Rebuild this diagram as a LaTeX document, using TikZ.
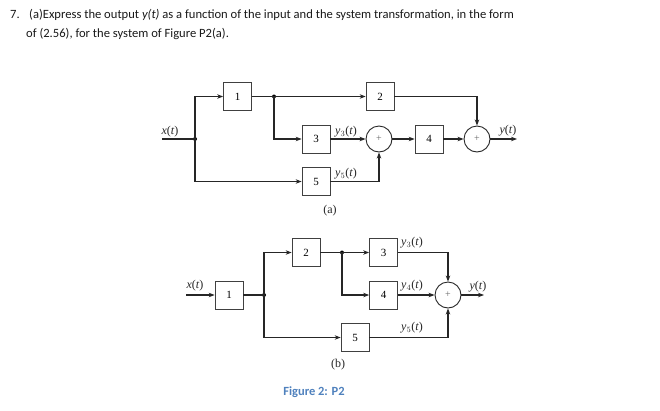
\documentclass[tikz,border=0pt]{standalone}
\usepackage{fontspec}
\setmainfont{Carlito}
\newfontfamily\dserif{Liberation Serif}
\usetikzlibrary{arrows.meta}
\definecolor{figblue}{HTML}{4F81BD}
\begin{document}
\begin{tikzpicture}[x=1pt,y=-1pt,
  blk/.style={draw=black!75, line width=0.7pt, minimum width=28pt, minimum height=28pt, inner sep=0pt, fill=white, font=\dserif\fontsize{11}{11}\selectfont},
  sumnode/.style={circle, draw=black!85, line width=0.9pt, minimum size=26pt, inner sep=0pt, font=\dserif\fontsize{10}{10}\selectfont\color{black!60}},
  wire/.style={line width=1.1pt, draw=black!85},
  arr/.style={wire, -{Stealth[length=6pt,width=4.5pt]}},
  jdot/.style={circle, fill=black, inner sep=0pt, minimum size=4pt},
  lbl/.style={font=\dserif\fontsize{12}{13}\selectfont, inner sep=0pt, text=black!85},
  head/.style={font=\fontsize{12.6}{15}\selectfont, inner sep=0pt, anchor=base west, text=black!90}
]
\useasboundingbox (0,0) rectangle (660,410);
% header
\node[head] (h0) at (10,18.3) {7.};
\node[head] (h1) at (29,18.3) {(a)Express the output \textit{y(t)} as a function of the input and the system transformation, in the form};
\node[head] (h2) at (26,37.7) {of (2.56), for the system of Figure P2(a).};

% ---------- diagram (a)
\coordinate (xa) at (162,139);
\node[jdot] (ja) at (195,139) {};
\node[blk] (a1) at (237.5,96.5) {1};
\node[jdot] (jb) at (274,96.5) {};
\node[blk] (a2) at (380,96.5) {2};
\node[blk] (a3) at (316,139) {3};
\node[blk] (a5) at (316,181.5) {5};
\node[sumnode] (s1) at (379,139) {+};
\node[blk] (a4) at (429,139) {4};
\node[sumnode] (s2) at (477,139) {+};
\coordinate (ya) at (517,139);

\draw[wire] (xa) -- (ja.center);
\draw[arr] (ja.center) |- (a1.west);
\draw[wire] (a1.east) -- (jb.center);
\draw[arr] (jb.center) -- (a2.west);
\draw[arr] (jb.center) |- (a3.west);
\draw[arr] (ja.center) |- (a5.west);
\draw[arr] (a3.east) -- (s1.west);
\draw[arr] (a5.east) -| (s1.south);
\draw[arr] (s1.east) -- (a4.west);
\draw[arr] (a4.east) -- (s2.west);
\draw[arr] (a2.east) -| (s2.north);
\draw[arr] (s2.east) -- (ya);

\node[lbl] (lxa) at (170,132) {\textit{x}(\textit{t})};
\node[lbl] (ly3a) at (346,132) {\textit{y}$_3$(\textit{t})};
\node[lbl] (ly5a) at (346,174) {\textit{y}$_5$(\textit{t})};
\node[lbl] (lya) at (508,131) {\textit{y}(\textit{t})};
\node[lbl] (capa) at (330,211) {(a)};

% ---------- diagram (b)
\coordinate (xb) at (186,295);
\node[blk] (b1) at (229,295) {1};
\node[jdot] (jc) at (264,295) {};
\node[blk] (b2) at (306,252.5) {2};
\node[jdot] (jd) at (342,252.5) {};
\node[blk] (b3) at (383.5,252.5) {3};
\node[blk] (b4) at (383.5,295) {4};
\node[blk] (b5) at (355,337.5) {5};
\node[sumnode] (s3) at (448,295) {+};
\coordinate (yb) at (484,295);

\draw[arr] (xb) -- (b1.west);
\draw[wire] (b1.east) -- (jc.center);
\draw[arr] (jc.center) |- (b2.west);
\draw[arr] (jc.center) |- (b5.west);
\draw[wire] (b2.east) -- (jd.center);
\draw[arr] (jd.center) -- (b3.west);
\draw[arr] (jd.center) |- (b4.west);
\draw[arr] (b3.east) -| (s3.north);
\draw[arr] (b4.east) -- (s3.west);
\draw[arr] (b5.east) -| (s3.south);
\draw[arr] (s3.east) -- (yb);

\node[lbl] (lxb) at (195,286) {\textit{x}(\textit{t})};
\node[lbl] (ly3b) at (412,243) {\textit{y}$_3$(\textit{t})};
\node[lbl] (ly4b) at (412,286) {\textit{y}$_4$(\textit{t})};
\node[lbl] (ly5b) at (412,328) {\textit{y}$_5$(\textit{t})};
\node[lbl] (lyb) at (478,287) {\textit{y}(\textit{t})};
\node[lbl] (capb) at (338,365) {(b)};

\node[font=\bfseries\fontsize{12.5}{14}\selectfont, text=figblue, inner sep=0pt] (fig) at (314,392) {Figure 2: P2};
\end{tikzpicture}
\end{document}
